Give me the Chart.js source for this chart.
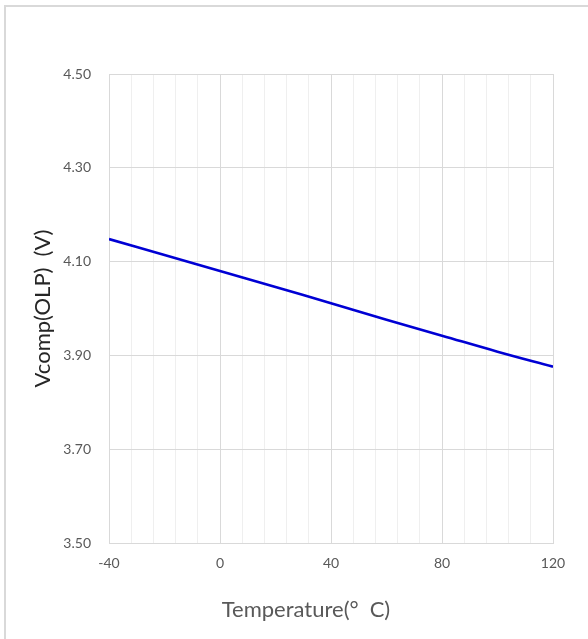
<!DOCTYPE html>
<html>
<head>
<meta charset="utf-8">
<script src="https://cdn.jsdelivr.net/npm/chart.js@4/dist/chart.umd.min.js"></script>
<style>
  html, body { margin: 0; padding: 0; background: #fff; }
  #wrap { position: relative; width: 588px; height: 639px; }
  #frame { position: absolute; left: 4px; top: 5px; right: 0; bottom: 0; border-top: 2px solid #d9d9d9; border-left: 2px solid #d9d9d9; pointer-events: none; }
</style>
</head>
<body>
<div id="wrap">
  <canvas id="c" width="588" height="639"></canvas>
  <div id="frame"></div>
</div>
<script>
const temperatures = [-40, -20, 0, 20, 40, 60, 80, 100, 120];
const vcompOLP = [4.148, 4.114, 4.080, 4.046, 4.011, 3.976, 3.942, 3.908, 3.876];
const xTickLabels = ['-40', '0', '40', '80', '120'];
const yTickLabels = ['3.50', '3.70', '3.90', '4.10', '4.30', '4.50'];
const xTitle = 'Temperature(°\u2002C)';
const yTitle = 'Vcomp(OLP)\u2002(V)';

const FONT = 'Lato, "Open Sans", sans-serif';

const titlePlugin = {
  id: 'axisTitles',
  afterDraw(chart) {
    const ctx = chart.ctx;
    const ca = chart.chartArea;
    ctx.save();
    ctx.fillStyle = '#262626';
    ctx.font = '22px ' + FONT;
    ctx.textAlign = 'center';
    ctx.textBaseline = 'middle';
    ctx.translate(43, (ca.top + ca.bottom) / 2);
    ctx.rotate(-Math.PI / 2);
    ctx.fillText(yTitle, 0, 0);
    ctx.restore();
    ctx.save();
    ctx.fillStyle = '#595959';
    ctx.font = '22px ' + FONT;
    ctx.textAlign = 'center';
    ctx.textBaseline = 'middle';
    ctx.fillText(xTitle, 306, 610);
    ctx.restore();
  }
};

new Chart(document.getElementById('c'), {
  type: 'line',
  data: {
    datasets: [{
      data: temperatures.map((t, i) => ({ x: t, y: vcompOLP[i] })),
      borderColor: '#0000d4',
      borderWidth: 2.6,
      pointRadius: 0,
      fill: false,
      tension: 0.4
    }]
  },
  options: {
    responsive: false,
    animation: false,
    layout: { padding: { left: 0, right: 35, top: 74, bottom: 0 } },
    plugins: { legend: { display: false }, tooltip: { enabled: false } },
    scales: {
      x: {
        type: 'linear',
        min: -40, max: 120,
        afterFit(s) { s.height = 96; },
        border: { display: true, color: '#d9d9d9', width: 1 },
        grid: {
          drawTicks: false,
          color: (c) => (c.tick && Math.abs(c.tick.value % 40) < 1e-9) ? '#d9d9d9' : '#efefef',
          lineWidth: 1
        },
        ticks: {
          stepSize: 8,
          autoSkip: false,
          maxRotation: 0,
          padding: 12,
          color: '#595959',
          font: { family: FONT, size: 14 },
          callback: (v) => {
            const s = String(Math.round(v));
            return xTickLabels.includes(s) ? s : '';
          }
        }
      },
      y: {
        type: 'linear',
        min: 3.5, max: 4.5,
        afterFit(s) { s.width = 109; },
        border: { display: true, color: '#d9d9d9', width: 1 },
        grid: { drawTicks: false, color: '#d9d9d9', lineWidth: 1 },
        ticks: {
          stepSize: 0.2,
          padding: 18,
          color: '#595959',
          font: { family: FONT, size: 14 },
          callback: (v) => {
            const s = Number(v).toFixed(2);
            return yTickLabels.includes(s) ? s : '';
          }
        }
      }
    }
  },
  plugins: [titlePlugin]
});
</script>
</body>
</html>
